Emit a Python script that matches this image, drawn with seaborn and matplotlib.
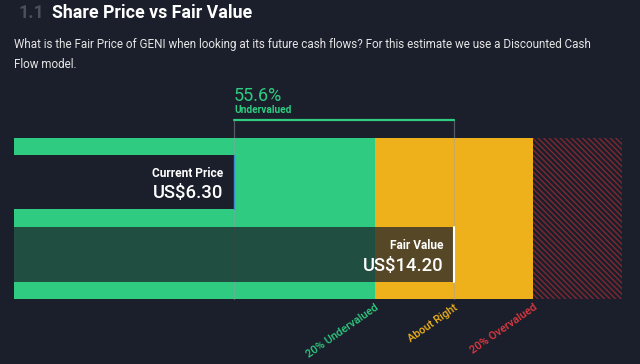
import matplotlib
matplotlib.use("Agg")
import matplotlib.pyplot as plt
import matplotlib.transforms as mtransforms
import seaborn as sns
import pandas as pd

# values
bar_labels = ["Current Price", "Fair Value"]
bar_values = [6.30, 14.20]
price_text = ["US$6.30", "US$14.20"]
zone_labels = ["20% Undervalued", "About Right", "20% Overvalued"]
zone_factors = [0.8, 1.0, 1.2]
discount_pct = 55.6

BG = "#1b1f2b"
GREEN = "#2ecb80"
YELLOW = "#eeb11b"
RED = "#e2393f"
HATCH = "#7e2832"

X_MIN, X_MAX = -1.6, 20.23

sns.set_theme(style="white")
plt.rcParams["font.family"] = ["Roboto", "DejaVu Sans"]
plt.rcParams["hatch.linewidth"] = 1.0

fig = plt.figure(figsize=(6.4, 3.64), dpi=100, facecolor=BG)
ax = fig.add_axes([14 / 640, 65 / 364, 608 / 640, 161 / 364])
ax.set_facecolor(BG)

fair = bar_values[1]
under, right, over = [f * fair for f in zone_factors]

# valuation zones
ax.axvspan(X_MIN, under, color=GREEN, lw=0, zorder=0)
ax.axvspan(under, over, color=YELLOW, lw=0, zorder=0)
ax.axvspan(over, X_MAX, facecolor=BG, edgecolor=HATCH, hatch="\\\\\\\\\\\\", lw=0, zorder=0)

# bars
df = pd.DataFrame({"label": bar_labels, "width": [v - X_MIN for v in bar_values]})
sns.barplot(data=df, x="width", y="label", orient="h", left=X_MIN, width=0.75,
            errorbar=None, color=BG, zorder=3, ax=ax)
bars = ax.containers[0]
bars[0].set_facecolor(BG)
bars[1].set_facecolor((0.106, 0.122, 0.169, 0.72))
for p in bars:
    p.set_linewidth(0)

# bar edges
edge_cols = ["#3a8fd0", "white"]
edge_lw = [1.0, 1.5]
for p, v, c, lw in zip(bars, bar_values, edge_cols, edge_lw):
    y0 = p.get_y()
    ax.plot([v, v], [y0, y0 + p.get_height()], color=c, lw=lw, zorder=4)

# bracket between current price and fair value
trans = mtransforms.blended_transform_factory(ax.transData, ax.transAxes)
for v in bar_values:
    ax.plot([v, v], [0, 1.112], color="#9aa0aa", alpha=0.45, lw=0.9,
            transform=trans, clip_on=False, zorder=2)
ax.plot(bar_values, [1.112, 1.112], color=GREEN, lw=1.6, transform=trans,
        clip_on=False, zorder=5)
ax.text(bar_values[0], 1.232, f"{discount_pct}%", color=GREEN, fontsize=13,
        transform=trans, ha="left", va="baseline")
ax.text(bar_values[0], 1.157, "Undervalued", color=GREEN, fontsize=7.3,
        fontweight="bold", transform=trans, ha="left", va="baseline")

# bar labels
for i, (lab, txt, v) in enumerate(zip(bar_labels, price_text, bar_values)):
    ax.annotate(lab, xy=(v, i), xytext=(-11, 5.5), textcoords="offset pixels",
                color="white", fontsize=8.6, fontweight="bold", ha="right",
                va="baseline", zorder=6)
    ax.annotate(txt, xy=(v, i), xytext=(-11, -16), textcoords="offset pixels",
                color="white", fontsize=13.3, fontweight="medium", ha="right",
                va="baseline", zorder=6)

# zone labels under the axis
for lab, f, c in zip(zone_labels, zone_factors, [GREEN, YELLOW, RED]):
    ax.text(f * fair, -0.02, lab, color=c, fontsize=8, fontweight="medium",
            rotation=35, rotation_mode="anchor", ha="right", va="top",
            transform=trans)

ax.set_xlim(X_MIN, X_MAX)
ax.set_ylim(1.616, -0.614)
ax.set_axis_off()

# header
fig.text(18 / 640, 1 - 17.5 / 364, "1.1", color="#4a4f5c", fontsize=12.8,
         fontweight="bold", va="baseline")
fig.text(52 / 640, 1 - 17.5 / 364, "Share Price vs Fair Value", color="white",
         fontsize=12.8, fontweight="bold", va="baseline")
fig.text(14 / 640, 1 - 47.7 / 364,
         "What is the Fair Price of GENI when looking at its future cash flows? "
         "For this estimate we use a Discounted Cash",
         color="#e6e6e6", fontsize=8.4, va="baseline")
fig.text(14 / 640, 1 - 68.3 / 364, "Flow model.", color="#e6e6e6",
         fontsize=8.4, va="baseline")

fig.savefig("out.png", dpi=100, facecolor=BG)
